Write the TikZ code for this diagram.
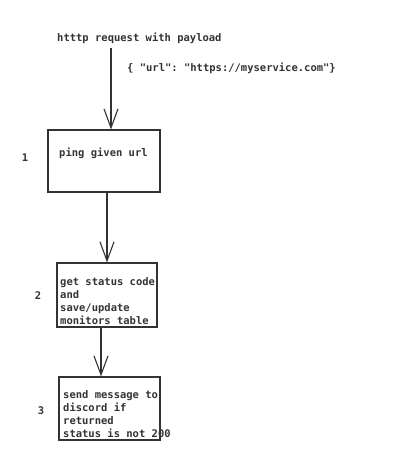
\documentclass[tikz,border=0pt]{standalone}
\usepackage{fontspec}
\setmonofont{DejaVu Sans Mono}
\usetikzlibrary{arrows.meta,calc}
\definecolor{ink}{HTML}{333333}
\begin{document}
\begin{tikzpicture}[x=1pt,y=-1pt,
  every node/.style={text=ink,font=\ttfamily\bfseries\fontsize{10.5}{13}\selectfont,inner sep=0pt},
  box/.style={draw=ink,line width=1.1pt,rectangle},
  txt/.style={anchor=north west,align=left},
  lbl/.style={anchor=base},
  flow/.style={draw=ink,line width=1.1pt,-{Straight Barb[length=19pt,width=14pt,line width=1.1pt]}}]
\useasboundingbox (0,0) rectangle (405,469);
% title and payload
\node[anchor=base west] (title) at (57,41) {htttp request with payload};
\node[anchor=base west] (payload) at (127,71) {\{ "url": "https://myservice.com"\}};
\coordinate (s1) at (111,48);
% boxes
\node[box,minimum width=112pt,minimum height=62pt] (b1) at (104,161) {};
\node[box,minimum width=100pt,minimum height=64pt] (b2) at (107,295) {};
\node[box,minimum width=101pt,minimum height=63pt] (b3) at (109.5,408.5) {};
% box texts
\node[anchor=base west] (t1) at (59,156) {ping given url};
\node[txt] (t2) at (60,277) {get status code\\and\\save/update\\monitors table};
\node[txt] (t3) at (63,390) {send message to\\discord if\\returned\\status is not 200};
% step labels
\node[lbl] (n1) at (25,161) {1};
\node[lbl] (n2) at (38,299) {2};
\node[lbl] (n3) at (41,414) {3};
% connectors
\draw[flow] (s1) -- (s1 |- b1.north);
\draw[flow] (b1.south -| b2.north) -- (b2.north);
\coordinate (s3) at ($(b2.south)+(-6,0)$);
\draw[flow] (s3) -- (s3 |- b3.north);
\end{tikzpicture}
\end{document}
